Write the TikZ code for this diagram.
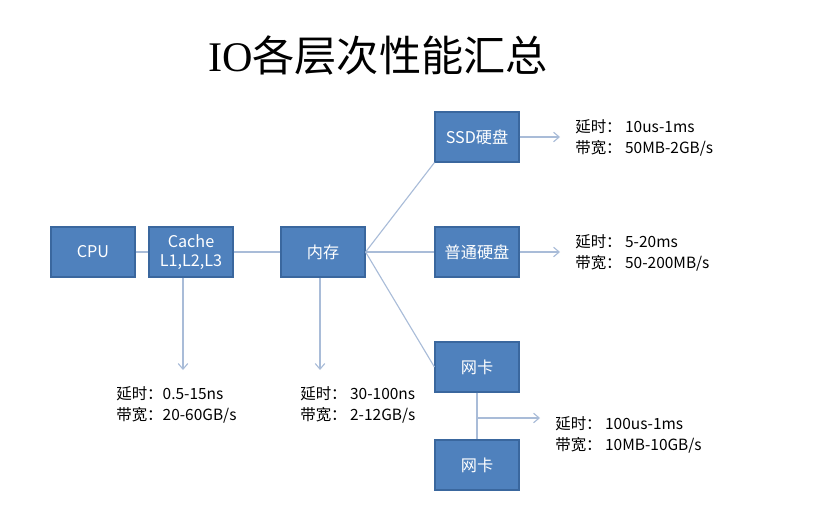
\documentclass[tikz,border=0pt]{standalone}
\usepackage{fontspec}
\setmainfont{Noto Sans CJK SC}
\newfontfamily\titlelat{Liberation Serif}
\usetikzlibrary{arrows.meta,calc}
\definecolor{boxblue}{HTML}{4F81BD}
\definecolor{boxedge}{HTML}{3A679E}
\definecolor{linkgray}{HTML}{A9BCD8}
\tikzset{
  unit/.style={draw=boxedge, line width=0.8pt, fill=boxblue, text=white,
    minimum width=2.1cm, minimum height=1.25cm, inner sep=1pt,
    align=center, font=\fontsize{11.5}{13}\selectfont},
  link/.style={draw=linkgray, line width=0.8pt},
  info/.style={anchor=west, align=left, inner sep=0pt,
    font=\fontsize{11}{15.5}\selectfont},
  ptr/.style={link, -{Straight Barb[length=1.4mm,width=2.4mm]}},
}

\begin{document}
\begin{tikzpicture}[x=0.025cm, y=-0.025cm]
  \useasboundingbox (0,0) rectangle (814,512);

  \node[font=\fontsize{30}{33}\selectfont] (ttl) at (378,55) {{\titlelat IO}各层次性能汇总};

  % main chain
  \node[unit] (cpu)   at (93,252)  {CPU};
  \node[unit] (cache) at (191,252) {Cache\\L1,L2,L3};
  \node[unit] (mem)   at (323,252) {内存};

  % devices behind memory
  \node[unit] (ssd)  at (477,137) {SSD硬盘};
  \node[unit] (hdd)  at (477,252) {普通硬盘};
  \node[unit] (nic1) at (477,367) {网卡};
  \node[unit] (nic2) at (477,465) {网卡};

  \draw[link] (cpu) -- (cache);
  \draw[link] (cache) -- (mem);
  \draw[link] (mem.east) -- (ssd.south west);
  \draw[link] (mem) -- (hdd);
  \draw[link] (mem.east) -- (nic1.west);
  \draw[link] (nic1) -- (nic2);

  % latency / bandwidth notes
  \coordinate (cachept) at (183,370);
  \coordinate (mempt)   at (320,370);
  \coordinate (ssdpt)   at (560,137);
  \coordinate (hddpt)   at (560,252);
  \coordinate (nicfrom) at (478,418);
  \coordinate (nicpt)   at (540,418);

  \draw[ptr] (cache.south -| cachept) -- (cachept);
  \draw[ptr] (mem.south -| mempt) -- (mempt);
  \draw[ptr] (ssd) -- (ssdpt);
  \draw[ptr] (hdd) -- (hddpt);
  \draw[ptr] (nicfrom) -- (nicpt);

  \node[info] (cacheinfo) at (116,405) {延时：0.5-15ns\\带宽：20-60GB/s};
  \node[info] (meminfo)   at (300,405) {延时： 30-100ns\\带宽： 2-12GB/s};
  \node[info] (ssdinfo)   at (575,138) {延时： 10us-1ms\\带宽： 50MB-2GB/s};
  \node[info] (hddinfo)   at (575,253) {延时： 5-20ms\\带宽： 50-200MB/s};
  \node[info] (nicinfo)   at (555,435) {延时： 100us-1ms\\带宽： 10MB-10GB/s};
\end{tikzpicture}
\end{document}
